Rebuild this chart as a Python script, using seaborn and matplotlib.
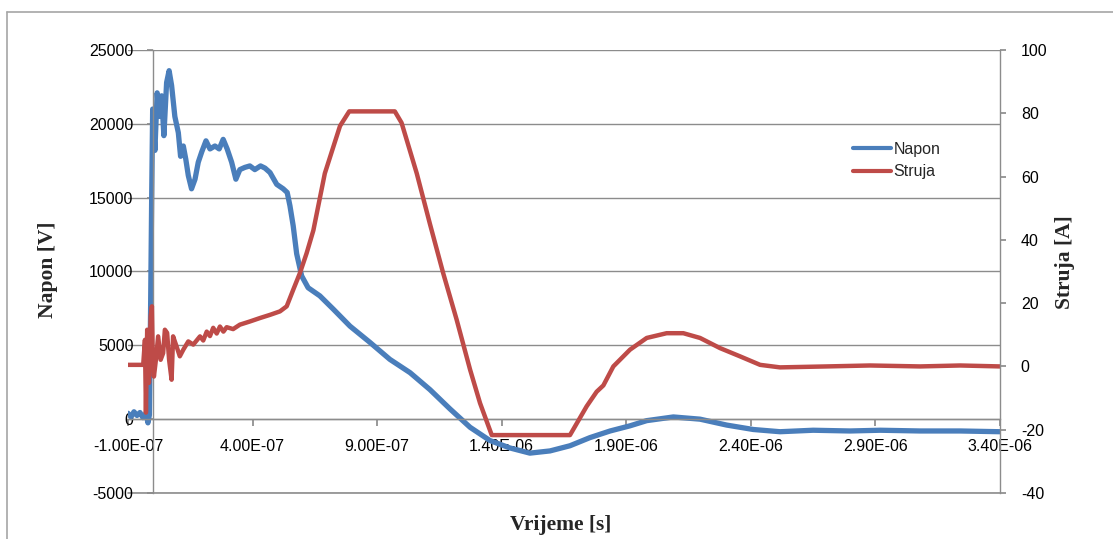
import matplotlib
matplotlib.use("Agg")
import matplotlib.pyplot as plt
from matplotlib.lines import Line2D
from matplotlib.ticker import FuncFormatter, MultipleLocator
import seaborn as sns

# vrijeme u mikrosekundama, ocitano sa slike
napon_t = [-0.100, -0.088, -0.076, -0.064, -0.052, -0.040, -0.028, -0.020, -0.014, -0.009,
           -0.005, -0.001, 0.008, 0.017, 0.025, 0.035, 0.044, 0.055, 0.065, 0.075,
           0.088, 0.102, 0.111, 0.122, 0.132, 0.142, 0.155, 0.169, 0.182, 0.196,
           0.213, 0.229, 0.249, 0.266, 0.282, 0.298, 0.316, 0.333, 0.349, 0.369,
           0.389, 0.409, 0.432, 0.450, 0.470, 0.497, 0.523, 0.539, 0.550, 0.563,
           0.577, 0.597, 0.623, 0.670, 0.724, 0.791, 0.871, 0.951, 1.032, 1.112,
           1.192, 1.273, 1.353, 1.433, 1.513, 1.594, 1.674, 1.754, 1.835, 1.915,
           1.982, 2.089, 2.196, 2.303, 2.410, 2.517, 2.650, 2.798, 2.919, 3.079,
           3.240, 3.400]
napon_v = [400, 150, 500, 250, 450, 100, 400, -250, 300, 8000,
           15000, 21000, 18200, 22100, 20500, 21900, 19200, 22800, 23600, 22600,
           20500, 19400, 17800, 18500, 17600, 16500, 15600, 16250, 17400, 18100,
           18850, 18300, 18500, 18300, 18950, 18300, 17400, 16250, 16900, 17050,
           17150, 16900, 17150, 17000, 16700, 15900, 15600, 15350, 14450, 13100,
           11200, 9700, 8900, 8350, 7450, 6300, 5200, 4050, 3150, 2000,
           700, -550, -1450, -1950, -2300, -2150, -1800, -1250, -800, -450,
           -100, 150, 0, -400, -700, -850, -750, -800, -750, -800,
           -800, -850]

struja_t = [-0.100, -0.039, -0.032, -0.028, -0.023, -0.016, -0.009, -0.004, -0.001, 0.004,
            0.012, 0.021, 0.031, 0.041, 0.048, 0.057, 0.065, 0.075, 0.081, 0.095,
            0.108, 0.122, 0.142, 0.162, 0.189, 0.202, 0.216, 0.229, 0.242, 0.256,
            0.269, 0.283, 0.296, 0.322, 0.349, 0.389, 0.430, 0.470, 0.510, 0.537,
            0.563, 0.590, 0.617, 0.644, 0.690, 0.751, 0.788, 0.971, 0.998, 1.059,
            1.112, 1.165, 1.219, 1.273, 1.313, 1.360, 1.674, 1.741, 1.781, 1.808,
            1.848, 1.915, 1.982, 2.062, 2.129, 2.196, 2.276, 2.356, 2.437, 2.517,
            2.704, 2.878, 3.079, 3.240, 3.400]
struja_a = [0.5, 0.5, 8.4, -14.6, 11.6, -5.2, 15.8, 19.0, 4.2, -3.2,
            2.1, 9.5, 2.1, 4.2, 11.6, 10.6, 2.1, -4.2, 9.5, 6.3,
            3.2, 5.3, 7.9, 6.9, 9.5, 8.2, 11.0, 9.6, 12.2, 10.4,
            12.6, 11.0, 12.4, 11.8, 13.2, 14.2, 15.3, 16.3, 17.4, 19.0,
            24.2, 29.5, 35.8, 43.0, 61.0, 76.0, 80.6, 80.6, 77.0, 61.0,
            45.0, 29.5, 14.8, -1.0, -11.6, -21.7, -21.7, -12.6, -8.0, -6.0,
            0.0, 5.3, 9.0, 10.5, 10.5, 9.0, 5.8, 3.2, 0.5, -0.3,
            0.0, 0.3, 0.0, 0.3, 0.0]

x_ticks = [-1.0e-7, 4.0e-7, 9.0e-7, 1.4e-6, 1.9e-6, 2.4e-6, 2.9e-6, 3.4e-6]

plava = "#4A7EBB"
crvena = "#BE4B48"
siva = "#8C8C8C"

sns.set_theme(style="white")
plt.rcParams["font.family"] = ["Liberation Sans", "DejaVu Sans"]
plt.rcParams["axes.unicode_minus"] = False

W, H = 1113, 539
fig = plt.figure(figsize=(W / 100, H / 100), dpi=100)
ax = fig.add_axes([128 / W, 1 - 493 / H, 872 / W, 443 / H])
ax2 = ax.twinx()

sns.lineplot(x=[t * 1e-6 for t in napon_t], y=napon_v, sort=False, estimator=None,
             color=plava, lw=3.8, ax=ax, legend=False)
sns.lineplot(x=[t * 1e-6 for t in struja_t], y=struja_a, sort=False, estimator=None,
             color=crvena, lw=3.2, ax=ax2, legend=False)

# lijeva os
ax.set_xlim(-1e-7, 3.4e-6)
ax.set_ylim(-5000, 25000)
ax.set_yticks(range(-5000, 25001, 5000))
ax.set_xticks(x_ticks)
ax.xaxis.set_major_formatter(FuncFormatter(lambda v, p: f"{v:.2E}"))
ax.grid(axis="y", color=siva, lw=1)
ax.grid(axis="x", visible=False)
# donja linija mreze na -5000 (da se ne odsijece na rubu)
ax.axhline(-5000, color=siva, lw=1.2, clip_on=False, zorder=0.5)
ax.spines["top"].set_visible(False)
ax.spines["right"].set_visible(False)
ax.spines["left"].set_position(("data", 0))
ax.spines["bottom"].set_position(("data", 0))
for s in ["left", "bottom"]:
    ax.spines[s].set_color(siva)
    ax.spines[s].set_linewidth(1)
ax.tick_params(axis="y", left=True, direction="out", length=4, color=siva,
               pad=10, labelsize=11.5, labelcolor="black")
ax.tick_params(axis="x", bottom=True, direction="out", length=5, color=siva,
               pad=9, labelsize=11.5, labelcolor="black")

# desna os
ax2.set_ylim(-40, 100)
ax2.yaxis.set_major_locator(MultipleLocator(20))
ax2.grid(False)
for s in ["top", "left", "bottom"]:
    ax2.spines[s].set_visible(False)
ax2.spines["right"].set_color(siva)
ax2.spines["right"].set_linewidth(1)
ax2.tick_params(axis="y", right=True, direction="out", length=4, color=siva,
                pad=11, labelsize=11.5, labelcolor="black")

# naslovi osi
serif = dict(family=["Liberation Serif", "DejaVu Serif"], weight="bold", size=15.5)
ax.set_xlabel("Vrijeme [s]", **serif)
ax.xaxis.label.set_va("center")
ax.xaxis.set_label_coords((561 - 128) / 872, (493 - 525) / 443)
ax.set_ylabel("Napon [V]", **serif)
ax.yaxis.label.set_va("center")
ax.yaxis.set_label_coords((48 - 128) / 872, (493 - 270) / 443)
ax2.set_ylabel("Struja [A]", **serif)
ax2.yaxis.label.set_va("center")
ax2.yaxis.set_label_coords((1065 - 128) / 872, (493 - 262) / 443)

# legenda
handles = [Line2D([], [], color=plava, lw=3), Line2D([], [], color=crvena, lw=3)]
fig.legend(handles, ["Napon", "Struja"], loc="center left",
           bbox_to_anchor=(853 / W, 1 - 160.5 / H), bbox_transform=fig.transFigure,
           frameon=False, fontsize=11.5, handlelength=2.4, handletextpad=0.15,
           borderpad=0, borderaxespad=0, labelspacing=0.5)

# okvir grafikona
okvir = dict(transform=fig.transFigure, color="#A6A6A6", lw=1.2)
fig.add_artist(Line2D([7 / W, 1], [1 - 12 / H, 1 - 12 / H], **okvir))
fig.add_artist(Line2D([7 / W, 7 / W], [1 - 12 / H, 0], **okvir))

fig.savefig("out.png", dpi=100)
